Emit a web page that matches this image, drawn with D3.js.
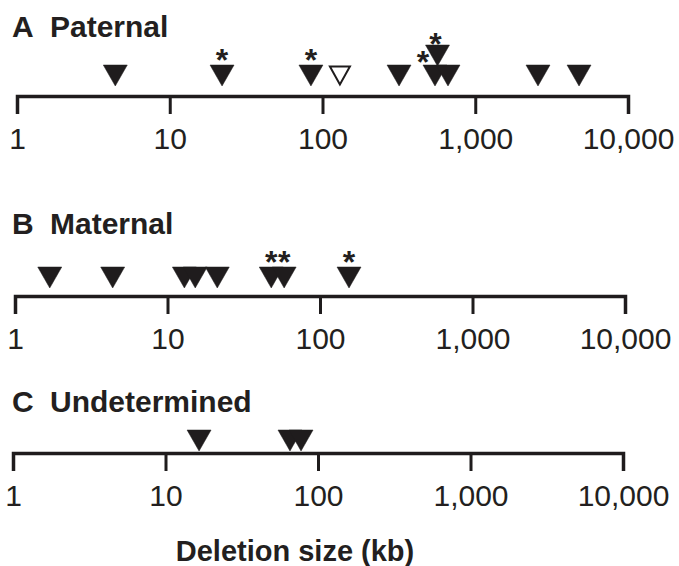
<!DOCTYPE html>
<html>
<head>
<meta charset="utf-8">
<script src="https://cdn.jsdelivr.net/npm/d3@7"></script>
<style>
  html, body { margin: 0; padding: 0; background: #fff; }
  svg { display: block; }
  text { font-family: "Liberation Sans", Arial, Helvetica, sans-serif; fill: #231f20; }
</style>
</head>
<body>
<div id="chart"></div>
<script>
// deletion sizes in kb
const tickValues = [1, 10, 100, 1000, 10000];

const paternalSizes = [4.4, 22, 84, 130, 317, 545, 566, 663, 2575, 4780];
const paternalStar  = ["", "top", "top", "", "", "left", "top", "", "", ""];
const paternalRow   = [0, 0, 0, 0, 0, 0, 1, 0, 0, 0];
const paternalOpen  = [false, false, false, true, false, false, false, false, false, false];

const maternalSizes = [1.69, 4.37, 12.9, 15.2, 21.2, 47.9, 58.2, 155];
const maternalStar  = ["", "", "", "", "", "top", "top", "top"];

const undeterminedSizes = [16.6, 65.5, 77.4];

const panels = [
	{letter: "A", name: "Paternal", sizes: paternalSizes, star: paternalStar, row: paternalRow, open: paternalOpen,
		titleY: 37, axisY: 96, triTop: 65, x0: 17, x1: 628},
	{letter: "B", name: "Maternal", sizes: maternalSizes, star: maternalStar,
		titleY: 234, axisY: 296, triTop: 267, x0: 15, x1: 625},
	{letter: "C", name: "Undetermined", sizes: undeterminedSizes,
		titleY: 412, axisY: 453, triTop: 430, x0: 13, x1: 623}
];

const width = 679, height = 566;
const triW = 24, triH = 21, rowStep = 20;
const ink = "#1f1c1d";

const svg = d3.select("#chart").append("svg")
	.attr("width", width)
	.attr("height", height);

// downward pointing triangle with top edge at y
const triangle = function (x, top, w, h) {
	const p = d3.path();
	p.moveTo(x - w / 2, top);
	p.lineTo(x + w / 2, top);
	p.lineTo(x, top + h);
	p.closePath();
	return p.toString();
};

panels.forEach(panel => {
	const x = d3.scaleLog()
		.domain([1, 10000])
		.range([panel.x0, panel.x1]);

	const g = svg.append("g");

	//Panel header
	g.append("text")
		.attr("x", 12)
		.attr("y", panel.titleY)
		.attr("font-size", 30)
		.attr("font-weight", "bold")
		.text(panel.letter);
	g.append("text")
		.attr("x", 50)
		.attr("y", panel.titleY)
		.attr("font-size", 30)
		.attr("font-weight", "bold")
		.text(panel.name);

	//Axis
	const axis = g.append("g")
		.attr("transform", "translate(0," + panel.axisY + ")")
		.call(d3.axisBottom(x)
			.tickValues(tickValues)
			.tickFormat(d3.format(","))
			.tickSizeOuter(0)
			.tickSize(18)
			.tickPadding(14));
	axis.select(".domain")
		.attr("stroke", ink)
		.attr("stroke-width", 3.5);
	axis.selectAll(".tick line")
		.attr("stroke", ink)
		.attr("stroke-width", 3);
	axis.selectAll(".tick text")
		.attr("font-size", 30)
		.attr("font-family", "'Liberation Sans', Arial, sans-serif")
		.attr("fill", ink);

	//Markers
	const data = panel.sizes.map((v, i) => ({
		value: v,
		star: panel.star ? panel.star[i] : "",
		row: panel.row ? panel.row[i] : 0,
		open: panel.open ? panel.open[i] : false
	}));

	g.selectAll("path.marker")
		.data(data)
		.enter()
		.append("path")
		.attr("class", "marker")
		.attr("d", d => {
			const top = panel.triTop - d.row * rowStep;
			return d.open
				? triangle(x(d.value), top + 1.5, triW - 4, triH - 3)
				: triangle(x(d.value), top, triW, triH);
		})
		.attr("fill", d => d.open ? "#fff" : ink)
		.attr("stroke", ink)
		.attr("stroke-width", d => d.open ? 2 : 0.5)
		.attr("stroke-linejoin", "miter");

	//Asterisks
	const starSize = 32;
	g.selectAll("text.star")
		.data(data.filter(d => d.star))
		.enter()
		.append("text")
		.attr("class", "star")
		.attr("text-anchor", "middle")
		.attr("font-size", starSize)
		.attr("font-weight", "bold")
		.attr("x", d => d.star === "left" ? x(d.value) - 12 : x(d.value) - (d.row ? 2 : 0))
		.attr("y", d => {
			const top = panel.triTop - d.row * rowStep;
			const cy = d.star === "left" ? top - 10 : (d.row ? top - 8 : top - 12);
			return cy + starSize * 0.56;
		})
		.text("*");
});

//Shared axis title
svg.append("text")
	.attr("x", 295)
	.attr("y", 561)
	.attr("text-anchor", "middle")
	.attr("font-size", 29)
	.attr("font-weight", "bold")
	.text("Deletion size (kb)");
</script>
</body>
</html>
